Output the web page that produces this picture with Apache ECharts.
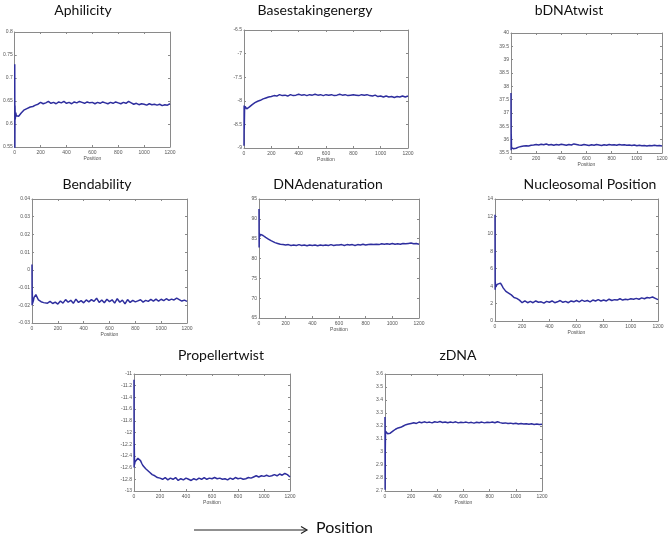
<!DOCTYPE html>
<html>
<head>
<meta charset="utf-8">
<script src="https://cdn.jsdelivr.net/npm/echarts@6/dist/echarts.min.js"></script>
<style>html,body{margin:0;padding:0;background:#fff}#c{width:672px;height:539px}</style>
</head>
<body>
<div id="c"></div>
<script>
// ---- data ----
const positions = [0,1,2,4,8,12,16,20,30,40,50,60,70,80,90,100,
  120,140,160,180,200,220,240,260,280,300,320,340,360,380,400,
  420,440,460,480,500,520,540,560,580,600,620,640,660,680,700,720,740,760,780,800,
  820,840,860,880,900,920,940,960,980,1000,1020,1040,1060,1080,1100,1120,1140,1160,1180,1200];
const xTickLabels = ['0','200','400','600','800','1000','1200'];
const panelTitles = ['Aphilicity','Basestakingenergy','bDNAtwist','Bendability','DNAdenaturation','Nucleosomal Position','Propellertwist','zDNA'];
const xAxisName = 'Position';

const aphilicity = [0.73,0.54,0.64,0.61,0.625,0.618,0.622,0.619,0.617,0.621,0.624,0.626,0.630,0.629,0.633,0.634,
  0.637,0.638,0.641,0.643,0.647,0.644,0.646,0.649,0.645,0.647,0.644,0.648,0.646,0.649,0.645,
  0.647,0.644,0.648,0.646,0.649,0.647,0.645,0.648,0.646,0.647,0.644,0.647,0.645,0.648,0.646,0.644,0.647,0.645,0.648,0.646,
  0.644,0.647,0.645,0.649,0.646,0.643,0.645,0.642,0.644,0.643,0.641,0.644,0.642,0.643,0.641,0.643,0.640,0.642,0.641,0.644];
const basestakingenergy = [-8.95,-8.1,-8.6,-8.2,-8.12,-8.16,-8.14,-8.17,-8.15,-8.13,-8.1,-8.08,-8.06,-8.04,-8.03,-8.01,
  -7.99,-7.96,-7.94,-7.92,-7.91,-7.89,-7.9,-7.87,-7.89,-7.88,-7.9,-7.87,-7.89,-7.88,-7.86,
  -7.88,-7.87,-7.89,-7.87,-7.88,-7.86,-7.88,-7.87,-7.89,-7.87,-7.88,-7.87,-7.89,-7.88,-7.86,-7.88,-7.87,-7.89,-7.88,-7.87,
  -7.88,-7.89,-7.87,-7.88,-7.87,-7.89,-7.9,-7.88,-7.91,-7.9,-7.92,-7.9,-7.92,-7.91,-7.93,-7.91,-7.92,-7.9,-7.92,-7.9];
const bDNAtwist = [37.75,35.6,36.2,35.7,35.65,35.67,35.64,35.66,35.65,35.68,35.7,35.72,35.71,35.74,35.73,35.76,
  35.77,35.76,35.79,35.8,35.82,35.8,35.83,35.81,35.84,35.8,35.82,35.79,35.82,35.8,35.83,
  35.81,35.79,35.82,35.8,35.84,35.82,35.8,35.79,35.82,35.8,35.78,35.81,35.79,35.82,35.8,35.78,35.81,35.79,35.82,35.8,
  35.81,35.79,35.82,35.8,35.81,35.79,35.8,35.78,35.8,35.77,35.79,35.77,35.78,35.76,35.78,35.77,35.79,35.77,35.78,35.76];
const bendability = [0.003,-0.02,-0.012,-0.019,-0.018,-0.017,-0.0155,-0.0145,-0.014,-0.0155,-0.017,-0.0165,-0.018,-0.0172,-0.0185,-0.0176,
  -0.0188,-0.0178,-0.019,-0.0182,-0.0193,-0.0176,-0.0188,-0.0168,-0.0183,-0.0172,-0.0189,-0.0165,-0.0184,-0.0174,-0.0186,
  -0.017,-0.0181,-0.0168,-0.0178,-0.016,-0.0184,-0.017,-0.0186,-0.0166,-0.0179,-0.0169,-0.0188,-0.0163,-0.0183,-0.0171,-0.0192,-0.0168,-0.0184,-0.0172,-0.0181,
  -0.0175,-0.0169,-0.0182,-0.0172,-0.0178,-0.0167,-0.0176,-0.0165,-0.0177,-0.0166,-0.0174,-0.0163,-0.0172,-0.0165,-0.017,-0.016,-0.0168,-0.0176,-0.0171,-0.0178];
const dnaDenaturation = [92.5,82.8,86.5,85.5,85.9,86.1,85.8,86.0,85.8,85.6,85.3,85.1,84.9,84.6,84.5,84.3,
  84.0,83.8,83.6,83.5,83.4,83.5,83.3,83.4,83.3,83.5,83.3,83.4,83.2,83.4,83.3,
  83.4,83.2,83.4,83.3,83.4,83.3,83.5,83.3,83.4,83.4,83.5,83.3,83.5,83.4,83.5,83.3,83.5,83.4,83.6,83.4,
  83.5,83.6,83.5,83.6,83.5,83.7,83.6,83.7,83.6,83.8,83.6,83.7,83.6,83.8,83.7,83.8,83.9,83.7,83.8,83.6];
const nucleosomalPosition = [12.2,3.6,4.5,3.9,4.1,4.0,4.2,4.1,4.3,4.35,4.1,3.8,3.6,3.4,3.3,3.2,
  3.0,2.7,2.6,2.4,2.1,2.3,2.1,2.25,2.1,2.3,2.15,2.2,2.05,2.25,2.15,
  2.3,2.1,2.2,2.35,2.15,2.25,2.1,2.3,2.2,2.35,2.2,2.4,2.25,2.35,2.2,2.4,2.3,2.45,2.3,2.4,
  2.3,2.5,2.35,2.45,2.4,2.55,2.4,2.5,2.45,2.55,2.5,2.6,2.5,2.65,2.55,2.7,2.65,2.75,2.6,2.45];
const propellertwist = [-11.1,-12.6,-12.2,-12.55,-12.5,-12.52,-12.48,-12.47,-12.44,-12.43,-12.48,-12.53,-12.57,-12.6,-12.62,-12.65,
  -12.68,-12.72,-12.74,-12.77,-12.78,-12.8,-12.77,-12.81,-12.78,-12.8,-12.77,-12.82,-12.79,-12.81,-12.78,
  -12.8,-12.82,-12.79,-12.81,-12.78,-12.8,-12.77,-12.8,-12.78,-12.79,-12.77,-12.79,-12.78,-12.8,-12.79,-12.81,-12.78,-12.8,-12.77,-12.79,
  -12.78,-12.8,-12.79,-12.77,-12.78,-12.76,-12.74,-12.76,-12.74,-12.75,-12.73,-12.75,-12.74,-12.72,-12.74,-12.71,-12.73,-12.7,-12.72,-12.76];
const zDNA = [3.27,2.71,3.0,3.16,3.15,3.155,3.145,3.14,3.138,3.145,3.155,3.16,3.17,3.175,3.18,3.185,
  3.19,3.2,3.21,3.215,3.22,3.225,3.22,3.23,3.225,3.232,3.226,3.23,3.224,3.233,3.228,
  3.234,3.227,3.231,3.225,3.23,3.226,3.232,3.224,3.229,3.226,3.23,3.224,3.228,3.222,3.229,3.225,3.23,3.224,3.228,3.226,
  3.231,3.225,3.233,3.226,3.222,3.224,3.219,3.222,3.217,3.221,3.216,3.22,3.215,3.218,3.213,3.217,3.212,3.216,3.211,3.214];

const seriesValues = [aphilicity, basestakingenergy, bDNAtwist, bendability, dnaDenaturation, nucleosomalPosition, propellertwist, zDNA];
const yMin = [0.55, -9, 35.5, -0.03, 65, 0, -13, 2.7];
const yMax = [0.8, -6.5, 40, 0.04, 95, 14, -11, 3.6];
const yStep = [0.05, 0.5, 0.5, 0.01, 5, 2, 0.2, 0.1];

// ---- layout ----
const boxes = [
  [14, 32, 156, 115],
  [244, 30, 164, 118],
  [511, 33, 151, 120],
  [32, 199, 155, 124],
  [259, 199, 160, 119],
  [495, 199, 163, 122],
  [134, 374, 156, 117],
  [385, 374, 157, 117]
];
const titlePos = [[83,10],[315,10],[569,10],[97,184],[328,184],[590,184],[221,355],[458,355]];

const lineColor = '#2e2e9e';
const frameColor = '#8a8a8a';
const labelFont = {fontSize: 5, color: '#555', fontFamily: 'Liberation Sans'};

const grid = [], xAxis = [], yAxis = [], series = [], graphic = [];
boxes.forEach((b, i) => {
  grid.push({left: b[0], top: b[1], width: b[2], height: b[3], show: false});
  xAxis.push({type: 'value', gridIndex: i, min: 0, max: 1200, interval: 200, position: 'bottom',
    name: xAxisName, nameLocation: 'middle', nameGap: 9,
    nameTextStyle: {fontSize: 5, color: '#555', fontFamily: 'Liberation Sans'},
    axisLine: {onZero: false, lineStyle: {color: frameColor, width: 1}},
    axisTick: {inside: true, length: 2, lineStyle: {color: frameColor}},
    axisLabel: Object.assign({margin: 3, formatter: v => xTickLabels[Math.round(v / 200)]}, labelFont),
    splitLine: {show: false}});
  xAxis.push({type: 'value', gridIndex: i, min: 0, max: 1200, interval: 200, position: 'top',
    axisLine: {onZero: false, lineStyle: {color: frameColor, width: 1}},
    axisTick: {inside: true, length: 2, lineStyle: {color: frameColor}},
    axisLabel: {show: false}, splitLine: {show: false}});
  yAxis.push({type: 'value', gridIndex: i, min: yMin[i], max: yMax[i], interval: yStep[i], position: 'left',
    axisLine: {onZero: false, lineStyle: {color: frameColor, width: 1}},
    axisTick: {inside: true, length: 2, lineStyle: {color: frameColor}},
    axisLabel: Object.assign({margin: 2}, labelFont),
    splitLine: {show: false}});
  yAxis.push({type: 'value', gridIndex: i, min: yMin[i], max: yMax[i], interval: yStep[i], position: 'right',
    axisLine: {onZero: false, lineStyle: {color: frameColor, width: 1}},
    axisTick: {inside: true, length: 2, lineStyle: {color: frameColor}},
    axisLabel: {show: false}, splitLine: {show: false}});
  series.push({type: 'line', xAxisIndex: 2 * i, yAxisIndex: 2 * i, showSymbol: false, symbol: 'none',
    animation: false, clip: true,
    lineStyle: {color: lineColor, width: 1.5},
    data: positions.map((p, k) => [p, seriesValues[i][k]])});
  graphic.push({type: 'text', x: titlePos[i][0], y: titlePos[i][1],
    style: {text: panelTitles[i], fill: '#111', font: '14px Lato', textAlign: 'center', textVerticalAlign: 'middle'}});
});

graphic.push({type: 'line', shape: {x1: 194, y1: 530, x2: 307, y2: 530}, style: {stroke: '#222', lineWidth: 1.2}});
graphic.push({type: 'polyline', shape: {points: [[301, 526.5], [307, 530], [301, 533.5]]}, style: {stroke: '#222', lineWidth: 1.2, fill: null}});
graphic.push({type: 'text', x: 316, y: 528, style: {text: 'Position', fill: '#111', font: '16px Lato', textAlign: 'left', textVerticalAlign: 'middle'}});

const chart = echarts.init(document.getElementById('c'), null, {renderer: 'canvas'});
chart.setOption({animation: false, backgroundColor: '#fff', grid, xAxis, yAxis, series, graphic});
</script>
</body>
</html>
